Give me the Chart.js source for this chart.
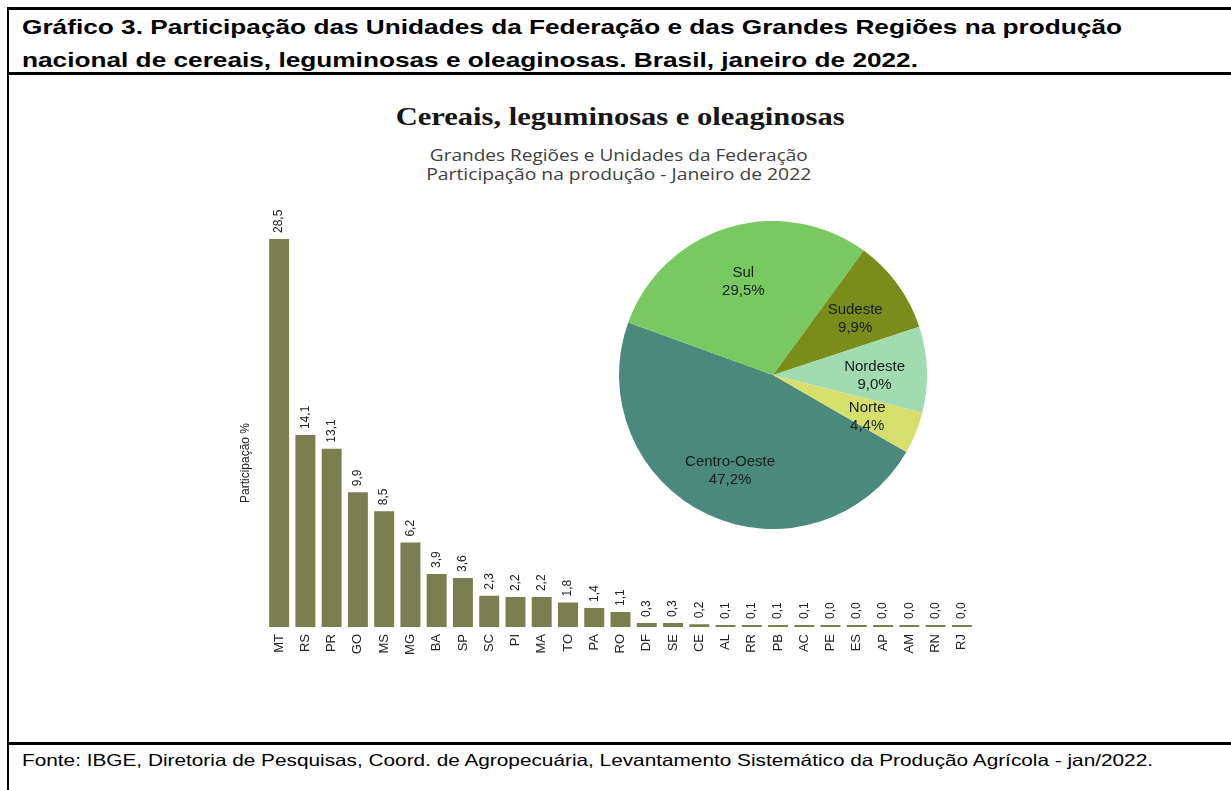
<!DOCTYPE html>
<html>
<head>
<meta charset="utf-8">
<script src="https://cdn.jsdelivr.net/npm/chart.js"></script>
<style>
    body { margin: 0; background: #fff; width: 1231px; height: 790px; overflow: hidden; position: relative; font-family: "Liberation Sans", Arial, sans-serif; }
    .frame { position: absolute; left: 7px; top: 7px; width: 1300px; height: 900px; border-left: 2px solid #000; border-top: 3px solid #000; }
    .rule { position: absolute; left: 7px; width: 1300px; height: 3px; background: #000; }
    .line { position: absolute; white-space: nowrap; }
    .line span { display: inline-block; }
    .head { left: 22px; font-size: 21px; font-weight: bold; line-height: 33px; color: #000; }
    .head span, .foot span { transform-origin: left center; }
    .foot { left: 22px; top: 750px; font-size: 16.5px; line-height: 20px; color: #000; }
    .ctitle { left: 0; width: 1240px; text-align: center; top: 102px; font-family: "Liberation Serif", serif; font-weight: bold; font-size: 26px; line-height: 30px; color: #161616; }
    .csub { left: 0; width: 1238px; text-align: center; font-family: "Open Sans", sans-serif; font-size: 17px; line-height: 19px; color: #404040; }
    .ctitle span, .csub span { transform-origin: center center; }
    #barCanvas { position: absolute; left: 0; top: 80px; }
    #pieCanvas { position: absolute; left: 619px; top: 221px; }
</style>
</head>
<body>
<div class="frame"></div>
<div class="rule" style="top: 72px;"></div>
<div class="rule" style="top: 742px;"></div>

<div class="line head" style="top: 10px;"><span id="h1">Gráfico 3. Participação das Unidades da Federação e das Grandes Regiões na produção</span></div>
<div class="line head" style="top: 43px;"><span id="h2">nacional de cereais, leguminosas e oleaginosas. Brasil, janeiro de 2022.</span></div>
<div class="line ctitle"><span id="t1">Cereais, leguminosas e oleaginosas</span></div>
<div class="line csub" style="top: 145px;"><span id="s1">Grandes Regiões e Unidades da Federação</span></div>
<div class="line csub" style="top: 164px;"><span id="s2">Participação na produção - Janeiro de 2022</span></div>
<div class="line foot"><span id="f1">Fonte: IBGE, Diretoria de Pesquisas, Coord. de Agropecuária, Levantamento Sistemático da Produção Agrícola - jan/2022.</span></div>

<canvas id="barCanvas" width="1231" height="662"></canvas>
<canvas id="pieCanvas" width="308" height="308"></canvas>

<script>
// Unidades da Federação
const states = ['MT', 'RS', 'PR', 'GO', 'MS', 'MG', 'BA', 'SP', 'SC', 'PI', 'MA', 'TO', 'PA', 'RO',
    'DF', 'SE', 'CE', 'AL', 'RR', 'PB', 'AC', 'PE', 'ES', 'AP', 'AM', 'RN', 'RJ'];
const stateShares = [28.5, 14.1, 13.1, 9.9, 8.5, 6.2, 3.9, 3.6, 2.3, 2.2, 2.2, 1.8, 1.4, 1.1,
    0.3, 0.3, 0.2, 0.1, 0.1, 0.1, 0.1, 0.0, 0.0, 0.0, 0.0, 0.0, 0.0];
const yTitle = 'Participação %';

// Grandes Regiões
const regions = ['Centro-Oeste', 'Sul', 'Sudeste', 'Nordeste', 'Norte'];
const regionShares = [47.2, 29.5, 9.9, 9.0, 4.4];
const regionColors = ['#4a897b', '#79c963', '#7a8c1a', '#a1dbb0', '#d6de6c'];

const barColor = '#7b7f4f';
const fontFamily = '"Liberation Sans", Arial, sans-serif';

function fmt(v) {
    return v.toFixed(1).replace('.', ',');
}

// stretch a text line to the width it has in the picture
function fitWidth(id, target) {
    const el = document.getElementById(id);
    const w = el.getBoundingClientRect().width;
    el.style.transform = 'scaleX(' + (target / w) + ')';
}

fitWidth('h1', 1100);
fitWidth('h2', 896);
fitWidth('f1', 1131);
fitWidth('t1', 449);
fitWidth('s1', 378);
fitWidth('s2', 385);

const barLabels = {
    id: 'barLabels',
    afterDatasetsDraw(chart) {
        const ctx = chart.ctx;
        const meta = chart.getDatasetMeta(0);
        ctx.save();
        ctx.font = '12px ' + fontFamily;
        ctx.fillStyle = '#222';
        ctx.textAlign = 'left';
        ctx.textBaseline = 'middle';
        meta.data.forEach((bar, i) => {
            ctx.save();
            ctx.translate(bar.x, bar.y - 6);
            ctx.rotate(-Math.PI / 2);
            ctx.fillText(fmt(stateShares[i]), 0, 0);
            ctx.restore();
        });

        // axis title, sits lower than the middle of the plot
        ctx.textAlign = 'center';
        ctx.translate(246, 463 - 80);
        ctx.rotate(-Math.PI / 2);
        ctx.fillText(yTitle, 0, 0);
        ctx.restore();
    }
};

const pieLabels = {
    id: 'pieLabels',
    afterDatasetsDraw(chart) {
        const ctx = chart.ctx;
        const meta = chart.getDatasetMeta(0);
        ctx.save();
        ctx.font = '15px ' + fontFamily;
        ctx.fillStyle = '#14201a';
        ctx.textAlign = 'center';
        ctx.textBaseline = 'middle';
        meta.data.forEach((arc, i) => {
            const mid = (arc.startAngle + arc.endAngle) / 2;
            const r = arc.outerRadius * 0.66;
            const x = arc.x + Math.cos(mid) * r;
            const y = arc.y + Math.sin(mid) * r + 4;
            ctx.fillText(regions[i], x, y - 9);
            ctx.fillText(fmt(regionShares[i]) + '%', x, y + 9);
        });
        ctx.restore();
    }
};

new Chart(document.getElementById('barCanvas').getContext('2d'), {
    type: 'bar',
    data: {
        labels: states,
        datasets: [{
            data: stateShares,
            backgroundColor: barColor,
            borderWidth: 0,
            barPercentage: 0.76,
            categoryPercentage: 1,
            minBarLength: 2
        }]
    },
    options: {
        responsive: false,
        animation: false,
        layout: { padding: { left: 266, right: 256, top: 138.6, bottom: 0 } },
        plugins: {
            legend: { display: false },
            tooltip: { enabled: false }
        },
        scales: {
            x: {
                grid: { display: false, drawTicks: false },
                border: { display: false },
                ticks: { minRotation: 90, maxRotation: 90, autoSkip: false, padding: 7, color: '#222', font: { family: fontFamily, size: 13 } },
                afterFit: function(scale) { scale.height = 115; }
            },
            y: {
                display: false,
                min: 0,
                max: 30
            }
        }
    },
    plugins: [barLabels]
});

new Chart(document.getElementById('pieCanvas').getContext('2d'), {
    type: 'pie',
    data: {
        labels: regions,
        datasets: [{
            data: regionShares,
            backgroundColor: regionColors,
            borderWidth: 0
        }]
    },
    options: {
        responsive: false,
        animation: false,
        rotation: 120,
        plugins: {
            legend: { display: false },
            tooltip: { enabled: false }
        }
    },
    plugins: [pieLabels]
});
</script>
</body>
</html>
